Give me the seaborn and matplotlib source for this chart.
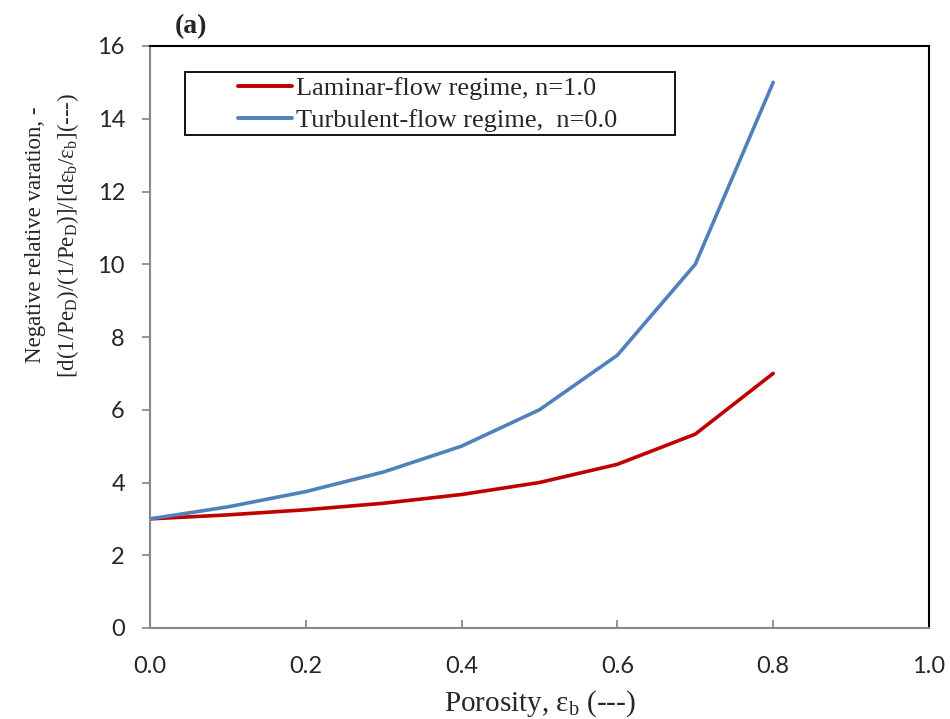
import matplotlib
matplotlib.use("Agg")
import matplotlib.pyplot as plt
from matplotlib.patches import Rectangle
import pandas as pd
import seaborn as sns

# porosity values and the two regime curves
porosity = [0.0, 0.1, 0.2, 0.3, 0.4, 0.5, 0.6, 0.7, 0.8]
laminar = [3.0, 3.11, 3.25, 3.43, 3.67, 4.0, 4.5, 5.33, 7.0]
turbulent = [3.0, 3.33, 3.75, 4.29, 5.0, 6.0, 7.5, 10.0, 15.0]

lab_lam = "Laminar-flow regime, n=1.0"
lab_tur = "Turbulent-flow regime,  n=0.0"
col_lam = "#C00000"
col_tur = "#4F81BD"

df = pd.concat([
    pd.DataFrame({"eps": porosity, "val": laminar, "regime": lab_lam}),
    pd.DataFrame({"eps": porosity, "val": turbulent, "regime": lab_tur}),
])

sns.set_theme(style="white")
plt.rcParams["font.family"] = ["Liberation Serif", "DejaVu Serif"]
plt.rcParams["mathtext.fontset"] = "custom"
plt.rcParams["mathtext.rm"] = "Liberation Serif"

fig = plt.figure(figsize=(9.5, 7.19), dpi=100)
ax = fig.add_axes([150 / 950, 1 - 628 / 719, 779 / 950, 582 / 719])

sns.lineplot(data=df, x="eps", y="val", hue="regime",
             palette={lab_lam: col_lam, lab_tur: col_tur},
             linewidth=2.6, ax=ax, legend=False)

ax.set_xlim(0, 1.0)
ax.set_ylim(0, 16)
ax.set_xticks([0.0, 0.2, 0.4, 0.6, 0.8, 1.0])
ax.set_xticklabels(["0.0", "0.2", "0.4", "0.6", "0.8", "1.0"])
ax.set_yticks(range(0, 17, 2))

tick_font = ["Liberation Sans Narrow", "Lato", "DejaVu Sans"]
for t in ax.get_xticklabels() + ax.get_yticklabels():
    t.set_family(tick_font)
    t.set_fontsize(17)

ax.tick_params(axis="x", direction="in", length=6, color="#888888", pad=20, bottom=True)
ax.tick_params(axis="y", direction="out", length=6, color="#888888", pad=12, left=True)

for s in ["left", "bottom"]:
    ax.spines[s].set_color("#888888")
    ax.spines[s].set_linewidth(1.5)
for s in ["top", "right"]:
    ax.spines[s].set_color("black")
    ax.spines[s].set_linewidth(1.5)

ax.set_xlabel(r"Porosity, ε$_\mathregular{b}$ (---)", fontsize=21, labelpad=8)
ax.set_ylabel("Negative relative varation, -\n"
              r"[d(1/Pe$_\mathregular{D}$)/(1/Pe$_\mathregular{D}$)]/[dε$_\mathregular{b}$/ε$_\mathregular{b}$](---)",
              fontsize=16.5, linespacing=1.5)
ax.yaxis.set_label_coords(-0.088, 0.675)

# legend box drawn separately so the handles sit well inside it
ax.add_patch(Rectangle((0.045, 0.847), 0.629, 0.108, transform=ax.transAxes,
                       fill=False, edgecolor="black", linewidth=1.3, zorder=5))
handles = [plt.Line2D([], [], color=col_lam, lw=2.8),
           plt.Line2D([], [], color=col_tur, lw=2.8)]
ax.legend(handles, [lab_lam, lab_tur], loc="upper left",
          bbox_to_anchor=(0.113, 0.948), borderaxespad=0, borderpad=0,
          fontsize=19, frameon=False, handlelength=2.05,
          handletextpad=0.15, labelspacing=0.35)

fig.text(175 / 950, 1 - 27 / 719, "(a)", fontsize=20, fontweight="bold",
         va="center", ha="left")

fig.savefig("out.png", dpi=100)
